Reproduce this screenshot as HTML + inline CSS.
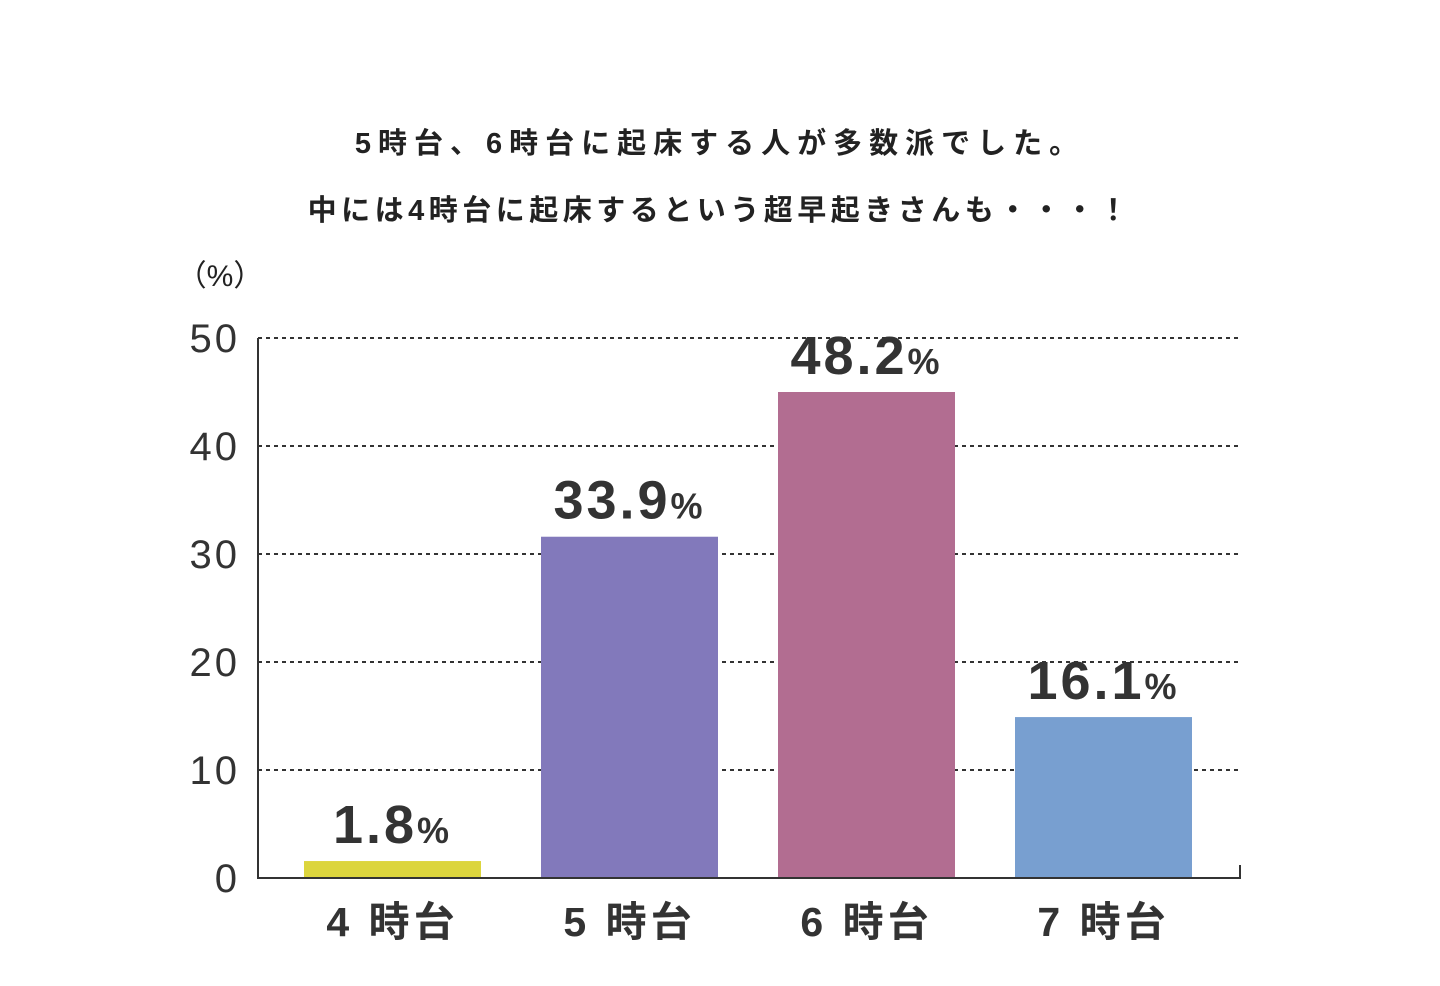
<!DOCTYPE html>
<html><head><meta charset="utf-8"><style>
body{margin:0;background:#fff;width:1440px;height:981px;overflow:hidden;font-family:"Liberation Sans","Noto Sans CJK JP",sans-serif;}
</style></head><body>
<svg width="1440" height="981" id="c" font-family="Liberation Sans, Noto Sans CJK JP, sans-serif">
<text x="720" y="153" text-anchor="middle" font-size="29" font-weight="bold" fill="#222" letter-spacing="7">5時台、6時台に起床する人が多数派でした。</text>
<text x="720" y="220" text-anchor="middle" font-size="29" font-weight="bold" fill="#222" letter-spacing="4.5">中には4時台に起床するという超早起きさんも・・・！</text>
<text x="220" y="286" text-anchor="middle" font-size="30" fill="#222">（%）</text>
<g id="grid"></g><g id="bars"></g>
</svg>
<script>
const categories=["4 時台","5 時台","6 時台","7 時台"];
const barValues=[1.57,31.6,45.0,14.9];
const labelValues=["1.8","33.9","48.2","16.1"];
const yTicks=[0,10,20,30,40,50];
const colors=["#dcd53d","#8279bb","#b26d91","#789fd0"];
const ns="http://www.w3.org/2000/svg";
const svg=document.getElementById('c');
const y0=878,yTop=338,yMax=50;
const y=v=>y0-(y0-yTop)*v/yMax;
const x=i=>304+i*237;
const bw=177;
function mk(t,a,p){const e=document.createElementNS(ns,t);for(const k in a)e.setAttribute(k,a[k]);(p||svg).appendChild(e);return e;}
const g=document.getElementById('grid'),b=document.getElementById('bars');
yTicks.forEach(t=>{
 if(t>0){const l=mk('line',{x1:258,x2:1240,y1:y(t),y2:y(t),stroke:'#333','stroke-width':2,'stroke-dasharray':'4 4'},g);
 
 }
 const tx=mk('text',{x:240,y:y(t)+14,'text-anchor':'end','font-size':40,fill:'#333','letter-spacing':3},g);tx.textContent=t;
 
 
});
categories.forEach((c,i)=>{
 const r=mk('rect',{x:x(i),y:y(barValues[i]),width:bw,height:y0-y(barValues[i]),fill:colors[i]},b);
 
 
 const t=mk('text',{x:x(i)+bw/2,y:y(barValues[i])-18,'text-anchor':'middle','font-size':54,'font-weight':'bold',fill:'#333','letter-spacing':3},b);
 t.textContent=labelValues[i];
 const ts=mk('tspan',{'font-size':36},t);ts.textContent='%';
 
 
 const xl=mk('text',{x:x(i)+bw/2,y:936,'text-anchor':'middle','font-size':41,'font-weight':'bold',fill:'#333','letter-spacing':4},b);
 xl.textContent=c;
 
 
});
const ax=mk('path',{d:'M258 338 V878 H1240 V865',fill:'none',stroke:'#333','stroke-width':2});


</script>
</body></html>
